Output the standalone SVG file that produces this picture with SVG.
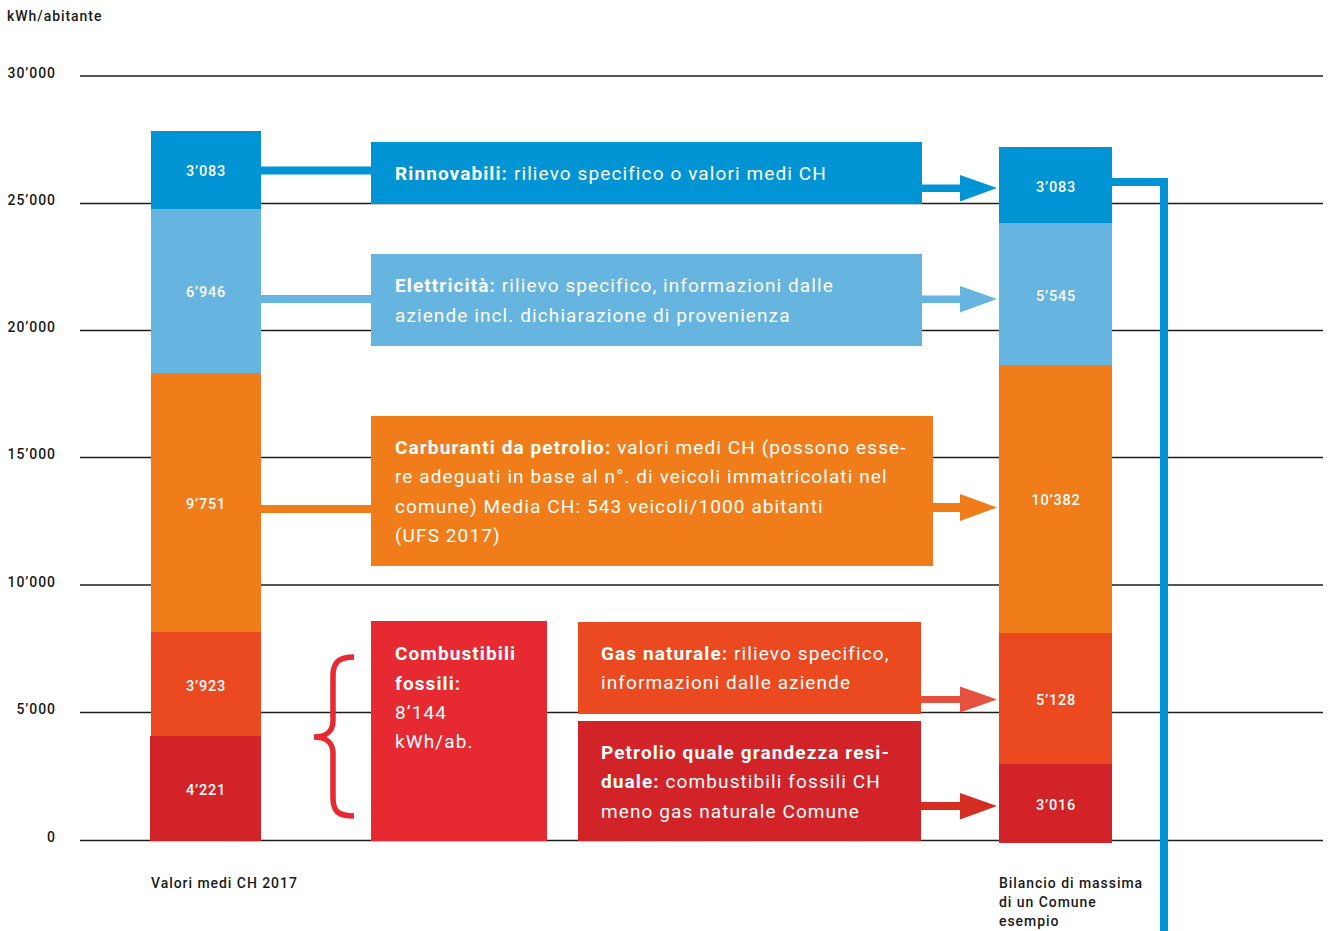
<svg xmlns="http://www.w3.org/2000/svg" width="1330" height="931" viewBox="0 0 1330 931">
<style>
.grid{stroke:#1e1e1e;stroke-width:1.5}
.ax{font-family:Roboto,"Liberation Sans",sans-serif;font-weight:500;font-size:14px;fill:#1a1a1a;letter-spacing:0.95px}
.axr{text-anchor:end}
.val{font-family:Roboto,"Liberation Sans",sans-serif;font-weight:500;font-size:14.5px;fill:#fff;text-anchor:middle;letter-spacing:0.8px}
.bt{font-family:Roboto,"Liberation Sans",sans-serif;font-size:19px;fill:#fff;letter-spacing:1.1px}
.b{font-weight:700}
.c1{fill:#0094d4}.c2{fill:#66b4e0}.c3{fill:#f07d1a}.c4{fill:#eb4a20}.c5{fill:#d22428}.c6{fill:#e72a31}
</style>
<g id="axis">
<text class="ax" x="7" y="21">kWh/abitante</text>
<line class="grid" x1="80" y1="76" x2="1323" y2="76"/>
<line class="grid" x1="80" y1="203.5" x2="1323" y2="203.5"/>
<line class="grid" x1="80" y1="330.5" x2="1323" y2="330.5"/>
<line class="grid" x1="80" y1="457.5" x2="1323" y2="457.5"/>
<line class="grid" x1="80" y1="585" x2="1323" y2="585"/>
<line class="grid" x1="80" y1="712.5" x2="1323" y2="712.5"/>
<line class="grid" x1="80" y1="840.5" x2="1323" y2="840.5"/>
<text class="ax axr" x="56" y="78">30’000</text>
<text class="ax axr" x="56" y="205">25’000</text>
<text class="ax axr" x="56" y="332">20’000</text>
<text class="ax axr" x="56" y="459">15’000</text>
<text class="ax axr" x="56" y="587">10’000</text>
<text class="ax axr" x="56" y="714">5’000</text>
<text class="ax axr" x="56" y="842">0</text>
</g>
<g id="connectors" fill="none">
<line x1="255" y1="170.5" x2="375" y2="170.5" stroke="#0094d4" stroke-width="8"/>
<line x1="255" y1="299" x2="375" y2="299" stroke="#66b4e0" stroke-width="8"/>
<line x1="255" y1="509" x2="375" y2="509" stroke="#f07d1a" stroke-width="8"/>
<path d="M918,184.5 H960 V175 L997,188 L960,201.5 V192 H918 Z" fill="#0094d4"/>
<path d="M918,295.5 H960 V286 L997,299 L960,312.5 V303 H918 Z" fill="#66b4e0"/>
<path d="M930,503 H960 V494 L997,507.5 L960,521 V512 H930 Z" fill="#f07d1a"/>
<path d="M909,696 H960 V686.5 L997,699.5 L960,712.5 V703 H909 Z" fill="#e6503e"/>
<path d="M909,802 H960 V793 L997,806 L960,819.5 V810 H909 Z" fill="#d42d22"/>
<path d="M1110,182 H1164 V931" stroke="#0094d4" stroke-width="8"/>
<path d="M354,657 C339,657 333,662 333,676 L333,721 C333,731 326,737 314,737 C326,737 333,743 333,753 L333,798 C333,812 339,816 354,816" stroke="#e72a31" stroke-width="5.5"/>
</g>
<g id="bar-left">
<rect class="c1" x="151" y="131" width="110" height="78"/>
<rect class="c2" x="151" y="209" width="110" height="164"/>
<rect class="c3" x="151" y="373" width="110" height="259"/>
<rect class="c4" x="151" y="632" width="110" height="104"/>
<rect class="c5" x="150" y="736" width="111" height="105"/>
<text class="val" x="206" y="175.5">3’083</text>
<text class="val" x="206" y="296.5">6’946</text>
<text class="val" x="206" y="508.5">9’751</text>
<text class="val" x="206" y="690.5">3’923</text>
<text class="val" x="206" y="794.5">4’221</text>
<text class="ax" x="151" y="888">Valori medi CH 2017</text>
</g>
<g id="bar-right">
<rect class="c1" x="999" y="147" width="113" height="76"/>
<rect class="c2" x="999" y="223" width="113" height="142"/>
<rect class="c3" x="999" y="365" width="113" height="268"/>
<rect class="c4" x="999" y="633" width="113" height="131"/>
<rect class="c5" x="999" y="764" width="113" height="79"/>
<text class="val" x="1056" y="191.5">3’083</text>
<text class="val" x="1056" y="300.5">5’545</text>
<text class="val" x="1056" y="504.5">10’382</text>
<text class="val" x="1056" y="704.5">5’128</text>
<text class="val" x="1056" y="809.5">3’016</text>
<text class="ax" x="999" y="888">Bilancio di massima</text>
<text class="ax" x="999" y="907">di un Comune</text>
<text class="ax" x="999" y="926">esempio</text>
</g>
<g id="box-rinnovabili">
<rect class="c1" x="371" y="142" width="551" height="62"/>
<text class="bt" x="395" y="180"><tspan class="b">Rinnovabili:</tspan> rilievo specifico o valori medi CH</text>
</g>
<g id="box-elettricita">
<rect class="c2" x="371" y="254" width="551" height="92"/>
<text class="bt" x="395" y="292"><tspan class="b">Elettricità:</tspan> rilievo specifico, informazioni dalle</text>
<text class="bt" x="395" y="322">aziende incl. dichiarazione di provenienza</text>
</g>
<g id="box-carburanti">
<rect class="c3" x="371" y="416" width="562" height="150"/>
<text class="bt" x="395" y="454"><tspan class="b">Carburanti da petrolio:</tspan> valori medi CH (possono esse-</text>
<text class="bt" x="395" y="483">re adeguati in base al n°. di veicoli immatricolati nel</text>
<text class="bt" x="395" y="513">comune) Media CH: 543 veicoli/1000 abitanti</text>
<text class="bt" x="395" y="542">(UFS 2017)</text>
</g>
<g id="box-combustibili">
<rect class="c6" x="371" y="621" width="176" height="220"/>
<text class="bt b" x="395" y="660">Combustibili</text>
<text class="bt b" x="395" y="690">fossili:</text>
<text class="bt" x="395" y="719">8’144</text>
<text class="bt" x="395" y="748">kWh/ab.</text>
</g>
<g id="box-gas">
<rect class="c4" x="578" y="622" width="343" height="92"/>
<text class="bt" x="601" y="660"><tspan class="b">Gas naturale:</tspan> rilievo specifico,</text>
<text class="bt" x="601" y="689">informazioni dalle aziende</text>
</g>
<g id="box-petrolio">
<rect class="c5" x="578" y="721" width="343" height="120"/>
<text class="bt" x="601" y="759"><tspan class="b">Petrolio quale grandezza resi-</tspan></text>
<text class="bt" x="601" y="788"><tspan class="b">duale:</tspan> combustibili fossili CH</text>
<text class="bt" x="601" y="818">meno gas naturale Comune</text>
</g>
</svg>
